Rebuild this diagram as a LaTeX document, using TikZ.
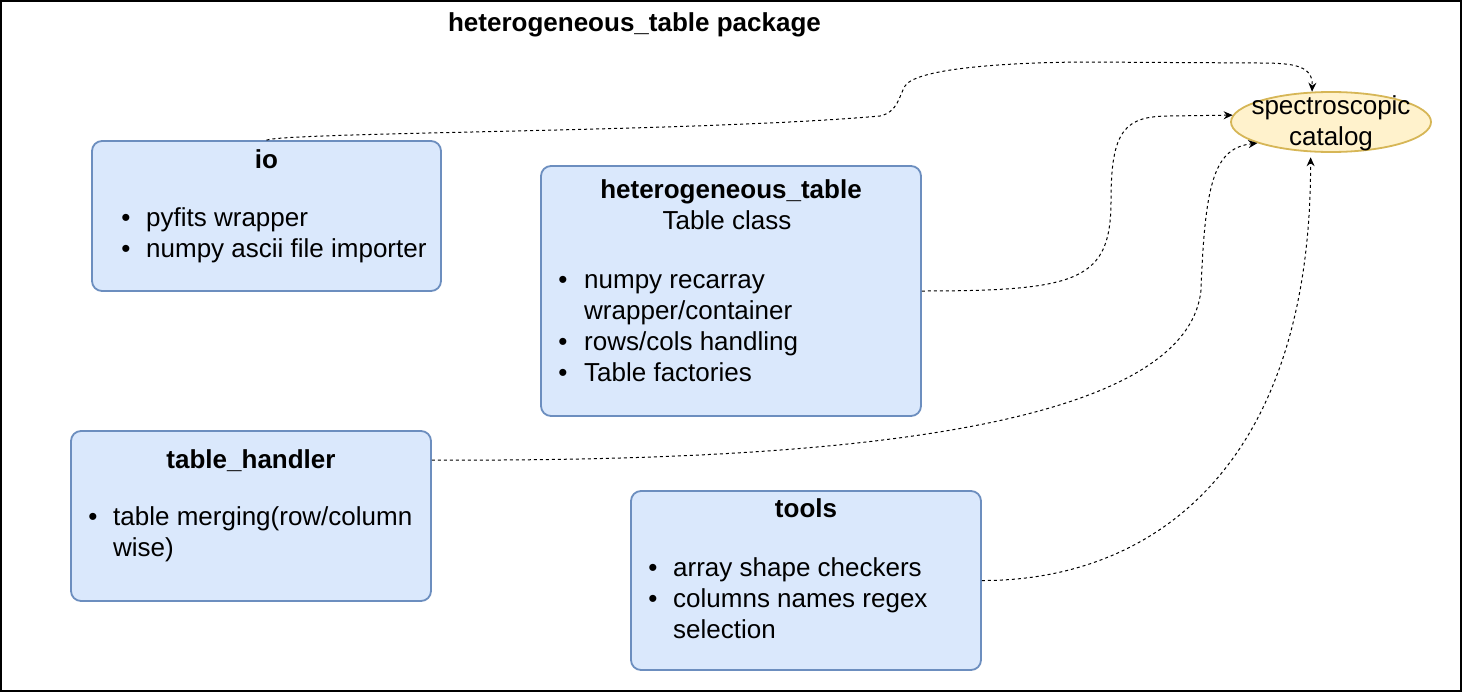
\documentclass[tikz,border=0pt]{standalone}
\usepackage{fontspec}
\setmainfont{Liberation Sans}
\usetikzlibrary{arrows.meta,shapes.geometric}
\definecolor{boxfill}{HTML}{DAE8FC}
\definecolor{boxline}{HTML}{6C8EBF}
\definecolor{ellfill}{HTML}{FFF2CC}
\definecolor{ellline}{HTML}{D6B656}
\begin{document}
\begin{tikzpicture}[x=1pt,y=-1pt,
  frame/.style={draw=black,line width=1.2pt,inner sep=0pt},
  modbox/.style={draw=boxline,fill=boxfill,line width=1.8pt,rounded corners=10pt,inner sep=0pt},
  catell/.style={ellipse,draw=ellline,fill=ellfill,line width=1.8pt,inner sep=0pt,minimum width=200pt,minimum height=60pt},
  txt/.style={font=\fontsize{26}{31}\selectfont,inner sep=0pt,anchor=base west},
  ttl/.style={font=\fontsize{26}{31}\selectfont\bfseries,inner sep=0pt,anchor=base},
  ctr/.style={font=\fontsize{26}{31}\selectfont,inner sep=0pt,anchor=base},
  bul/.style={font=\fontsize{26}{31}\selectfont,inner sep=0pt,anchor=base},
  conn/.style={draw=black,line width=1pt,dash pattern=on 3pt off 3pt,-{Stealth[length=9pt,width=8pt,inset=3pt]}}
]
\useasboundingbox (0,0) rectangle (1463,693);
\node[frame,minimum width=1460pt,minimum height=690pt] (border) at (731,346) {};
\node[ttl] (title) at (634.5,32) {heterogeneous\_table package};

% boxes
\node[modbox,minimum width=349pt,minimum height=150pt] (io) at (266.5,216) {};
\node[modbox,minimum width=380pt,minimum height=250pt] (het) at (731,291) {};
\node[modbox,minimum width=360pt,minimum height=170pt] (th) at (251,516) {};
\node[modbox,minimum width=350pt,minimum height=179pt] (tools) at (806,580.5) {};
\node[catell] (ell) at (1331,122) {};

% io text
\node[ttl] (io-t) at (266.5,168) {io};
\node[bul] (io-b1) at (126,226) {•};
\node[txt] (io-l1) at (146,226) {pyfits wrapper};
\node[bul] (io-b2) at (126,257) {•};
\node[txt] (io-l2) at (146,257) {numpy ascii file importer};

% heterogeneous_table text
\node[ttl] (het-t) at (731,198) {heterogeneous\_table};
\node[ctr] (het-s) at (727,229) {Table class};
\node[bul] (het-b1) at (563,288) {•};
\node[txt] (het-l1) at (584,288) {numpy recarray};
\node[txt] (het-l1b) at (584,319) {wrapper/container};
\node[bul] (het-b2) at (563,350) {•};
\node[txt] (het-l2) at (584,350) {rows/cols handling};
\node[bul] (het-b3) at (563,381) {•};
\node[txt] (het-l3) at (584,381) {Table factories};

% table_handler text
\node[ttl] (th-t) at (251,468) {table\_handler};
\node[bul] (th-b1) at (93,525) {•};
\node[txt] (th-l1) at (113,525) {table merging(row/column};
\node[txt] (th-l1b) at (113,556) {wise)};

% tools text
\node[ttl] (tools-t) at (806,517) {tools};
\node[bul] (tools-b1) at (653,576) {•};
\node[txt] (tools-l1) at (673,576) {array shape checkers};
\node[bul] (tools-b2) at (653,607) {•};
\node[txt] (tools-l2) at (673,607) {columns names regex};
\node[txt] (tools-l2b) at (673,638) {selection};

% ellipse text
\node[ctr] (ell-l1) at (1331,114) {spectroscopic};
\node[ctr] (ell-l2) at (1331,145) {catalog};

% connectors
\draw[conn] (io.north) .. controls (290,132) and (700,132) .. (880,116)
  .. controls (898,112) and (899,96) .. (905,86)
  .. controls (915,70) and (990,63) .. (1080,62) -- (1260,63)
  .. controls (1295,63) and (1313,66) .. (ell.122);
\draw[conn] (het.east) .. controls (1080,291) and (1111,280) .. (1111,200)
  .. controls (1111,130) and (1125,116) .. (1170,116) -- (ell.176);
\draw[conn] ([yshift=-30pt]th.north east) .. controls (750,461) and (1185,445) .. (1201,290)
  .. controls (1205,180) and (1215,148) .. (ell.196);
\draw[conn,shorten >=5pt] (tools.east) .. controls (1150,581) and (1311,470) .. (ell.236);
\end{tikzpicture}
\end{document}
